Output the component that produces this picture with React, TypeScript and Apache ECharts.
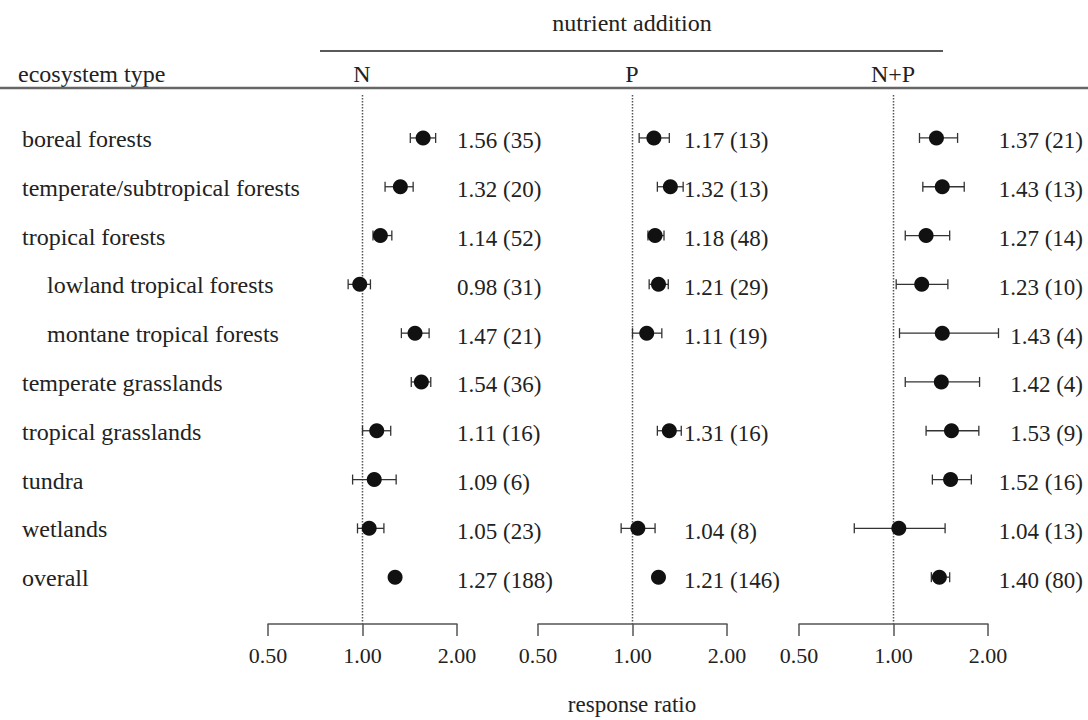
import React, { useEffect, useRef } from "react";
import * as echarts from "echarts";

const rows = [
  "boreal forests",
  "temperate/subtropical forests",
  "tropical forests",
  "lowland tropical forests",
  "montane tropical forests",
  "temperate grasslands",
  "tropical grasslands",
  "tundra",
  "wetlands",
  "overall",
];
const rowIndent = [0, 0, 0, 1, 1, 0, 0, 0, 0, 0];

const nMean = [1.56, 1.32, 1.14, 0.98, 1.47, 1.54, 1.11, 1.09, 1.05, 1.27];
const nLo = [1.42, 1.18, 1.08, 0.9, 1.33, 1.43, 1.0, 0.93, 0.964, 1.24];
const nHi = [1.71, 1.45, 1.24, 1.06, 1.63, 1.65, 1.23, 1.28, 1.17, 1.3];
const nCount = [35, 20, 52, 31, 21, 36, 16, 6, 23, 188];

const pMean = [1.17, 1.32, 1.18, 1.21, 1.11, null, 1.31, null, 1.04, 1.21];
const pLo = [1.05, 1.2, 1.12, 1.13, 1.0, null, 1.2, null, 0.92, 1.18];
const pHi = [1.31, 1.45, 1.26, 1.3, 1.24, null, 1.43, null, 1.18, 1.24];
const pCount = [13, 13, 48, 29, 19, null, 16, null, 8, 146];

const npMean = [1.37, 1.43, 1.27, 1.23, 1.43, 1.42, 1.53, 1.52, 1.04, 1.4];
const npLo = [1.21, 1.24, 1.09, 1.02, 1.045, 1.09, 1.27, 1.33, 0.75, 1.32];
const npHi = [1.6, 1.68, 1.51, 1.49, 2.16, 1.88, 1.87, 1.77, 1.46, 1.51];
const npCount = [21, 13, 14, 10, 4, 4, 9, 16, 13, 80];

const xTicks = [0.5, 1, 2];
const panelNames = ["N", "P", "N+P"];

const FONT = "'Liberation Serif', 'Times New Roman', 'DejaVu Serif', serif";
const FS_ROW = 24;
const FS_VAL = 23;
const FS_TICK = 22;

export default function App() {
  const ref = useRef<HTMLDivElement>(null);
  useEffect(() => {
    document.body.style.margin = "0";
    const chart = echarts.init(ref.current!, null, { renderer: "svg" });

    const panels = [
      { mean: nMean, lo: nLo, hi: nHi, cnt: nCount, left: 268, labelOff: 0, align: "left" },
      { mean: pMean, lo: pLo, hi: pHi, cnt: pCount, left: 538, labelOff: -43, align: "left" },
      { mean: npMean, lo: npLo, hi: npHi, cnt: npCount, left: 799, labelOff: 95, align: "right" },
    ];
    const yMin = -0.88;
    const yMax = 9.96;

    const grids: any[] = [];
    const xAxes: any[] = [];
    const yAxes: any[] = [];
    const series: any[] = [];

    panels.forEach((p, gi) => {
      grids.push({ left: p.left, width: 189, top: 95, bottom: 96, containLabel: false });
      xAxes.push({
        type: "log",
        logBase: 2,
        gridIndex: gi,
        position: "bottom",
        min: xTicks[0],
        max: xTicks[xTicks.length - 1],
        axisLine: { show: true, onZero: false, lineStyle: { color: "#555", width: 1.5 } },
        axisTick: { show: true, length: 12, inside: false, lineStyle: { color: "#555", width: 1.5 } },
        axisLabel: {
          margin: 20,
          color: "#222",
          fontFamily: FONT,
          fontSize: FS_TICK,
          formatter: (v: number) => v.toFixed(2),
        },
        splitLine: { show: false },
      });
      yAxes.push({
        type: "value",
        gridIndex: gi,
        min: yMin,
        max: yMax,
        inverse: true,
        show: false,
      });
      series.push({
        type: "line",
        xAxisIndex: gi,
        yAxisIndex: gi,
        data: [
          [1, yMin],
          [1, yMax],
        ],
        symbol: "none",
        silent: true,
        lineStyle: { type: "dotted", color: "#555", width: 1.5 },
        z: 1,
      });
      const data: any[] = [];
      p.mean.forEach((m, i) => {
        if (m == null) return;
        data.push([m, i, p.lo[i], p.hi[i], p.cnt[i]]);
      });
      series.push({
        type: "custom",
        xAxisIndex: gi,
        yAxisIndex: gi,
        clip: false,
        z: 3,
        data,
        encode: { x: 0, y: 1 },
        renderItem: (params: any, api: any) => {
          const m = api.value(0);
          const row = api.value(1);
          const lo = api.value(2);
          const hi = api.value(3);
          const cnt = api.value(4);
          const c = api.coord([m, row]);
          const l = api.coord([lo, row]);
          const h = api.coord([hi, row]);
          const ref2 = api.coord([2, row]);
          const cap = 5;
          const stroke = { stroke: "#333", lineWidth: 1.3 };
          return {
            type: "group",
            children: [
              { type: "line", shape: { x1: l[0], y1: c[1], x2: h[0], y2: c[1] }, style: stroke },
              { type: "line", shape: { x1: l[0], y1: c[1] - cap, x2: l[0], y2: c[1] + cap }, style: stroke },
              { type: "line", shape: { x1: h[0], y1: c[1] - cap, x2: h[0], y2: c[1] + cap }, style: stroke },
              { type: "circle", shape: { cx: c[0], cy: c[1], r: 7.5 }, style: { fill: "#111" } },
              {
                type: "text",
                style: {
                  text: m.toFixed(2) + " (" + cnt + ")",
                  x: ref2[0] + p.labelOff,
                  y: c[1] + 3,
                  fill: "#222",
                  fontFamily: FONT,
                  fontSize: FS_VAL,
                  align: p.align,
                  textAlign: p.align,
                  verticalAlign: "middle",
                  textVerticalAlign: "middle",
                },
              },
            ],
          };
        },
      });
    });

    // row labels, positioned via the first panel's y scale
    series.push({
      type: "custom",
      xAxisIndex: 0,
      yAxisIndex: 0,
      clip: false,
      silent: true,
      data: rows.map((r, i) => [1, i, rowIndent[i]]),
      renderItem: (params: any, api: any) => {
        const i = api.value(1);
        const c = api.coord([1, i]);
        return {
          type: "text",
          style: {
            text: rows[params.dataIndex],
            x: api.value(2) ? 47 : 22,
            y: c[1] + 1,
            fill: "#222",
            fontFamily: FONT,
            fontSize: FS_ROW,
            align: "left",
            textAlign: "left",
            verticalAlign: "middle",
            textVerticalAlign: "middle",
          },
        };
      },
    });

    const txt = (text: string, x: number, y: number, align = "center", fs = FS_ROW) => ({
      type: "text",
      x,
      y,
      style: {
        text,
        fill: "#222",
        fontFamily: FONT,
        fontSize: fs,
        align,
        textAlign: align,
        verticalAlign: "middle",
        textVerticalAlign: "middle",
      },
    });

    chart.setOption({
      animation: false,
      backgroundColor: "#fff",
      grid: grids,
      xAxis: xAxes,
      yAxis: yAxes,
      series,
      graphic: [
        txt("nutrient addition", 632, 23),
        { type: "line", shape: { x1: 320, y1: 51, x2: 943, y2: 51 }, style: { stroke: "#222", lineWidth: 1.5 } },
        txt("ecosystem type", 18, 74, "left"),
        txt(panelNames[0], 362, 74),
        txt(panelNames[1], 632, 74),
        txt(panelNames[2], 893, 74),
        { type: "line", shape: { x1: 0, y1: 88, x2: 1088, y2: 88 }, style: { stroke: "#666", lineWidth: 2.5 } },
        txt("response ratio", 632, 704, "center", 23),
      ],
    });
    return () => chart.dispose();
  }, []);
  return <div ref={ref} style={{ width: 1088, height: 720 }} />;
}
